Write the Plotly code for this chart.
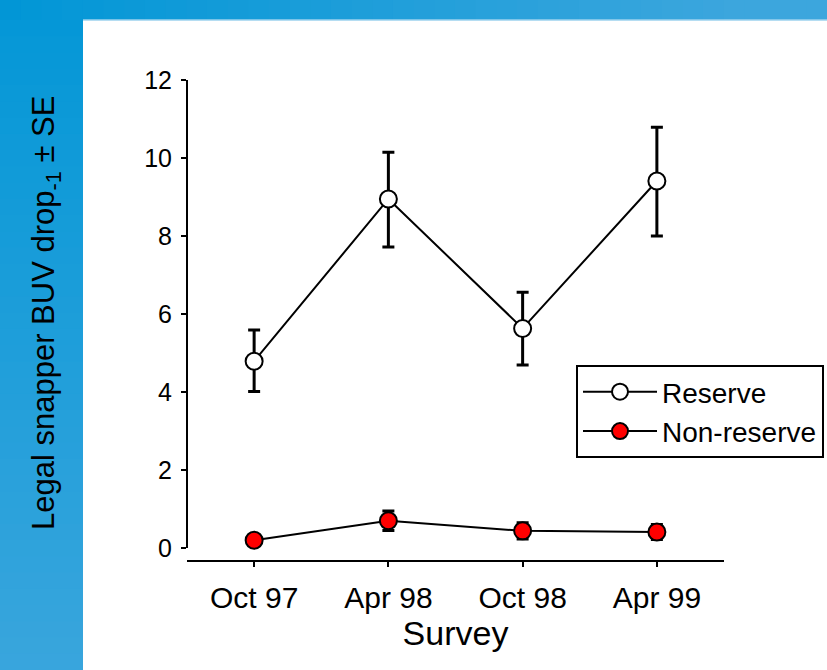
import plotly.graph_objects as go

surveys = ["Oct 97", "Apr 98", "Oct 98", "Apr 99"]
reserve_mean = [4.79, 8.95, 5.63, 9.41]
reserve_err_plus = [0.80, 1.20, 0.93, 1.38]
reserve_err_minus = [0.78, 1.23, 0.94, 1.41]
nonreserve_mean = [0.20, 0.70, 0.44, 0.41]
nonreserve_err = [0.10, 0.25, 0.21, 0.19]
y_ticks = [0, 2, 4, 6, 8, 10, 12]

W, H = 827, 670
L, R, T, B = 187, 724, 80, 560  # plot area in pixels
pw, ph = R - L, B - T


def px_x(p):
    return (p - L) / pw


def px_y(p):
    return (B - p) / ph


fig = go.Figure()

fig.add_trace(go.Scatter(
    x=surveys, y=reserve_mean, name="Reserve", mode="lines+markers",
    line=dict(color="black", width=2),
    marker=dict(size=17, color="white", line=dict(color="black", width=2)),
    error_y=dict(type="data", array=reserve_err_plus, arrayminus=reserve_err_minus,
                 color="black", thickness=3, width=6),
))
fig.add_trace(go.Scatter(
    x=surveys, y=nonreserve_mean, name="Non-reserve", mode="lines+markers",
    line=dict(color="black", width=2),
    marker=dict(size=17, color="#FF0000", line=dict(color="black", width=2)),
    error_y=dict(type="data", array=nonreserve_err, color="black", thickness=3, width=6),
))

shapes = []
# gradient background
c0 = (0, 150, 214)
c1 = (60, 166, 221)


def grad(t):
    t = max(0.0, min(1.0, t))
    return "rgb(%d,%d,%d)" % tuple(round(a + (b - a) * t) for a, b in zip(c0, c1))


n = 40
for i in range(n):
    x0 = W * i / n
    x1 = W * (i + 1) / n
    shapes.append(dict(type="rect", xref="paper", yref="paper",
                       x0=px_x(x0), x1=px_x(x1 + 1), y0=px_y(0), y1=px_y(20),
                       fillcolor=grad(((x0 + x1) / 2 + 10) / 750), line=dict(width=0), layer="below"))
for i in range(n):
    y0 = 20 + (H - 20) * i / n
    y1 = 20 + (H - 20) * (i + 1) / n
    shapes.append(dict(type="rect", xref="paper", yref="paper",
                       x0=px_x(0), x1=px_x(83), y0=px_y(y0), y1=px_y(y1 + 1),
                       fillcolor=grad(((y0 + y1) / 2 + 40) / 750), line=dict(width=0), layer="below"))
# white panel
shapes.append(dict(type="rect", xref="paper", yref="paper",
                   x0=px_x(83), x1=px_x(W + 5), y0=px_y(20), y1=px_y(H + 5),
                   fillcolor="white", line=dict(width=0), layer="below"))
shapes.append(dict(type="line", xref="paper", yref="paper",
                   x0=px_x(83), x1=px_x(W + 5), y0=px_y(20), y1=px_y(20),
                   line=dict(color="#9DD2EE", width=1.5), layer="below"))
# y axis line from 0 to 12 only
shapes.append(dict(type="line", xref="paper", yref="y",
                   x0=0, x1=0, y0=0, y1=12,
                   line=dict(color="black", width=2)))

fig.update_layout(
    width=W, height=H,
    margin=dict(l=L, r=W - R, t=T, b=H - B, autoexpand=False),
    paper_bgcolor="rgb(30,155,216)",
    plot_bgcolor="white",
    font=dict(family="Liberation Sans, Arial, sans-serif", color="black"),
    shapes=shapes,
    showlegend=True,
    legend=dict(
        x=px_x(576), y=px_y(365), xanchor="left", yanchor="top",
        bordercolor="black", borderwidth=2, bgcolor="white",
        font=dict(size=28, color="black"),
        itemwidth=74, tracegroupgap=0,
    ),
    xaxis=dict(
        range=[-0.5, 3.5], showgrid=False, zeroline=False,
        showline=True, linecolor="black", linewidth=2,
        ticks="outside", ticklen=5, tickwidth=2, tickcolor="black",
        tickfont=dict(size=30), ticklabelstandoff=5,
        title=dict(text="Survey", font=dict(size=34), standoff=2),
    ),
    yaxis=dict(
        range=[-12 / 39 * 1.0, 12], showgrid=False, zeroline=False, showline=False,
        tickvals=y_ticks, ticks="outside", ticklen=5, tickwidth=2, tickcolor="black",
        tickfont=dict(size=25), ticklabelstandoff=4,
    ),
    annotations=[dict(
        text="Legal snapper BUV drop<sub>-1</sub> ± SE", textangle=-90,
        xref="paper", yref="paper", x=px_x(46), y=px_y(313),
        xanchor="center", yanchor="middle", showarrow=False,
        font=dict(size=31, color="black"),
    )],
)

fig.write_html(
    "out.html",
    config={"displayModeBar": False},
    post_script="document.body.style.margin='0';document.body.style.overflow='hidden';",
)
